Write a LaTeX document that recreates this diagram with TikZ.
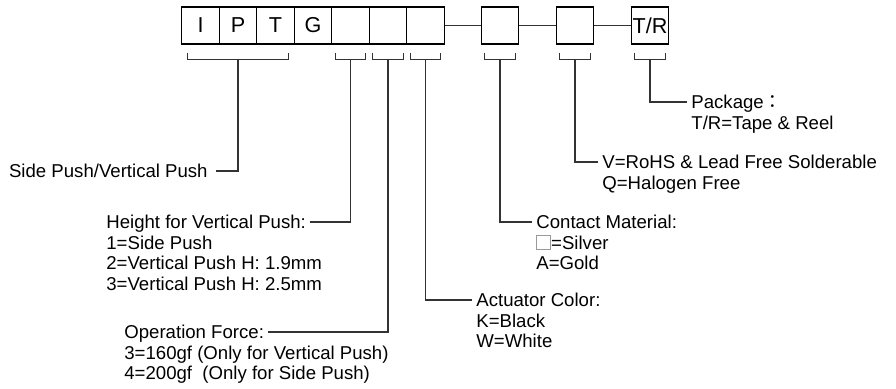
\documentclass[tikz,border=0pt]{standalone}
\usepackage{fontspec}
\setmainfont{Liberation Sans}
\newfontfamily\cjk{Noto Sans CJK TC}
\usetikzlibrary{calc}
\definecolor{pnline}{HTML}{333333}
\definecolor{pngrey}{HTML}{9A9A9A}
\newcommand{\pnrows}[1]{\begin{tabular}[t]{@{}l@{}}#1\end{tabular}}
\newcommand{\silverbox}{{\color{pngrey}\setlength{\fboxrule}{0.5pt}\setlength{\fboxsep}{0pt}\fbox{\rule{0pt}{6.4pt}\hspace{6.4pt}}}}
\tikzset{
  pbox/.style={draw=black, line width=0.6pt, minimum width=18.75pt,
               minimum height=18.5pt, inner sep=0pt,
               font=\fontsize{10.8}{12}\selectfont},
  pline/.style={draw=pnline, line width=0.6pt},
  phead/.style={inner xsep=2pt, inner ysep=0pt, text height=6.66pt,
                text depth=0pt, font=\fontsize{9.3}{10.25}\selectfont},
  pbody/.style={anchor=base west, inner xsep=2pt, inner ysep=0pt,
                font=\fontsize{9.3}{10.25}\selectfont},
}

\begin{document}
\begin{tikzpicture}[x=0.5pt,y=-0.5pt]
\useasboundingbox (0,0) rectangle (896,388);
% part number boxes
\node[pbox] (bi) at (200.5,25.5) {I};
\node[pbox] (bp) at (238,25.5) {P};
\node[pbox] (bt) at (275.5,25.5) {T};
\node[pbox] (bg) at (313,25.5) {G};
\node[pbox] (bh) at (350.5,25.5) {};
\node[pbox] (bf) at (388,25.5) {};
\node[pbox] (bc) at (425.5,25.5) {};
\node[pbox] (bm) at (500,25.5) {};
\node[pbox] (br) at (575,25.5) {};
\node[pbox] (bk) at (650,25.5) {T/R};
\draw[pline] (bc)--(bm); \draw[pline] (bm)--(br); \draw[pline] (br)--(bk);
% labels
\node[phead,anchor=east,inner xsep=4pt] (side) at (216,171) {Side Push/Vertical Push};
\node[phead,anchor=west] (hgt) at (102,222) {Height for Vertical Push:};
\node[pbody] (hgtv) at ([yshift=-10.25pt]hgt.base west) {\pnrows{1=Side Push\\2=Vertical Push H: 1.9mm\\3=Vertical Push H: 2.5mm}};
\node[phead,anchor=west] (opf) at (120,332) {Operation Force:};
\node[pbody] (opfv) at ([yshift=-10.25pt]opf.base west) {\pnrows{3=160gf (Only for Vertical Push)\\4=200gf\ \ (Only for Side Push)}};
\node[phead,anchor=west] (act) at (472,300) {Actuator Color:};
\node[pbody] (actv) at ([yshift=-10.25pt]act.base west) {\pnrows{K=Black\\W=White}};
\node[phead,anchor=west] (cnt) at (532,222) {Contact Material:};
\node[pbody] (cntv) at ([yshift=-10.25pt]cnt.base west) {\pnrows{\silverbox=Silver\\A=Gold}};
\node[phead,anchor=west] (rohs) at (598,162) {V=RoHS \& Lead Free Solderable};
\node[pbody] (rohsv) at ([yshift=-10.25pt]rohs.base west) {\pnrows{Q=Halogen Free}};
\node[phead,anchor=west] (pkg) at (687,102) {Package{\cjk ：}};
\node[pbody] (pkgv) at ([yshift=-10.25pt]pkg.base west) {\pnrows{T/R=Tape \& Reel}};
% brackets and leaders
\draw[pline] ($(bi.south west)+(6,8)$) |- ($(bp.south)+(0,15)$) -| ($(bt.south east)+(-6,8)$);
\draw[pline] ($(bp.south)+(0,15)$) |- (side.east);
\foreach \b/\t in {bh/hgt,bf/opf} {
  \draw[pline] ($(\b.south west)+(4,8)$) |- ($(\b.south)+(0,15)$) -| ($(\b.south east)+(-4,8)$);
  \draw[pline] ($(\b.south)+(0,15)$) |- (\t.east);
}
\foreach \b/\t in {bc/act,bm/cnt,br/rohs,bk/pkg} {
  \draw[pline] ($(\b.south west)+(4,8)$) |- ($(\b.south)+(0,15)$) -| ($(\b.south east)+(-4,8)$);
  \draw[pline] ($(\b.south)+(0,15)$) |- (\t.west);
}
\end{tikzpicture}
\end{document}
